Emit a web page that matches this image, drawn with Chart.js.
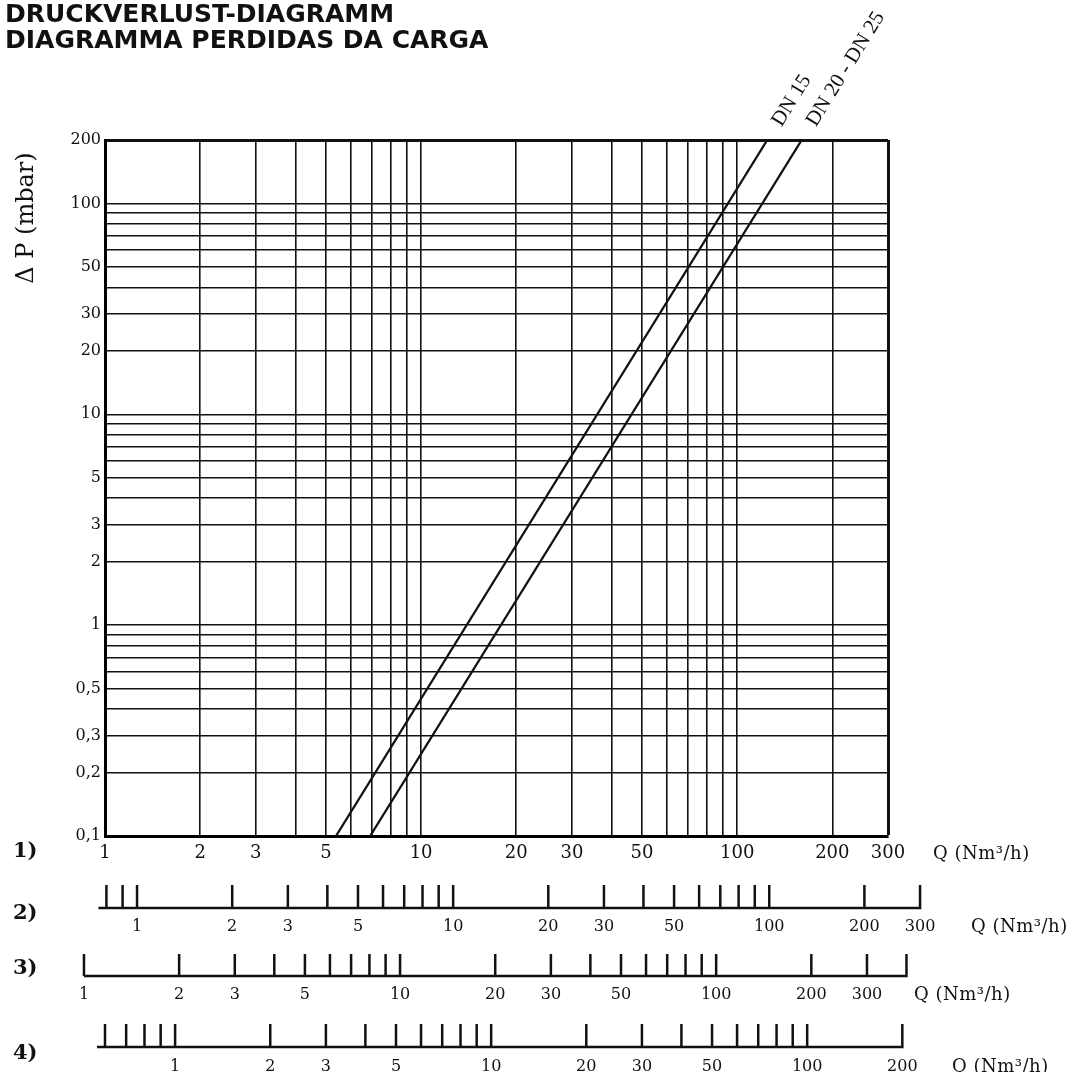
<!DOCTYPE html>
<html>
<head>
<meta charset="utf-8">
<title>Druckverlust-Diagramm</title>
<script src="https://cdn.jsdelivr.net/npm/chart.js@4.4.1/dist/chart.umd.min.js"></script>
<style>
  html, body { margin: 0; padding: 0; background: #fff; }
  #wrap { position: relative; width: 1069px; height: 1072px; }
</style>
</head>
<body>
<div id="wrap"><canvas id="chart"></canvas></div>
<script>
(function () {
  'use strict';

  // flow scale 1) (x) and pressure drop (y)
  const Q_MIN = 1;
  const Q_MAX = 300;
  const Q_GRID = [1, 2, 3, 4, 5, 6, 7, 8, 9, 10, 20, 30, 40, 50, 60, 70, 80, 90, 100, 200, 300];
  const Q_LABELS = [1, 2, 3, 5, 10, 20, 30, 50, 100, 200, 300];
  const P_MIN = 0.1;
  const P_MAX = 200;
  const P_GRID = [0.1, 0.2, 0.3, 0.4, 0.5, 0.6, 0.7, 0.8, 0.9, 1, 2, 3, 4, 5, 6, 7, 8, 9,
    10, 20, 30, 40, 50, 60, 70, 80, 90, 100, 200];
  const P_LABELS = [0.1, 0.2, 0.3, 0.5, 1, 2, 3, 5, 10, 20, 30, 50, 100, 200];

  // curves
  const DN15_Q = [5.38, 124.5];
  const DN15_P = [0.1, 200];
  const DN20_Q = [6.9, 160];
  const DN20_P = [0.1, 200];

  // secondary flow scales 2) 3) 4): where "1" of each one sits on scale 1)
  const SCALE_SHIFT = [1.263, 0.858, 1.665];
  const SCALE2_TICKS = [0.8, 0.9, 1, 2, 3, 4, 5, 6, 7, 8, 9, 10, 20, 30, 40, 50, 60, 70, 80, 90, 100, 200, 300];
  const SCALE2_LABELS = [1, 2, 3, 5, 10, 20, 30, 50, 100, 200, 300];
  const SCALE3_TICKS = [1, 2, 3, 4, 5, 6, 7, 8, 9, 10, 20, 30, 40, 50, 60, 70, 80, 90, 100, 200, 300, 400];
  const SCALE3_LABELS = [1, 2, 3, 5, 10, 20, 30, 50, 100, 200, 300];
  const SCALE4_TICKS = [0.6, 0.7, 0.8, 0.9, 1, 2, 3, 4, 5, 6, 7, 8, 9, 10, 20, 30, 40, 50, 60, 70, 80, 90, 100, 200];
  const SCALE4_LABELS = [1, 2, 3, 5, 10, 20, 30, 50, 100, 200];

  const INK = '#111';
  const SERIF = '"DejaVu Serif", "Liberation Serif", serif';

  // layout of the extra scale rows under the chart
  const ROWS = [
    { id: 'x2', ticks: SCALE2_TICKS, labels: SCALE2_LABELS, name: '2)', lineY: 908, tickTop: 885, labelY: 927, nameY: 914, lead: 8, qX: 971 },
    { id: 'x3', ticks: SCALE3_TICKS, labels: SCALE3_LABELS, name: '3)', lineY: 976, tickTop: 954, labelY: 995, nameY: 969, lead: 0, qX: 914 },
    { id: 'x4', ticks: SCALE4_TICKS, labels: SCALE4_LABELS, name: '4)', lineY: 1047, tickTop: 1024, labelY: 1067, nameY: 1054, lead: 8, qX: 952 },
  ];

  function fmt(v) {
    return String(v).replace('.', ',');
  }

  function toPoints(xs, ys) {
    return xs.map((x, i) => ({ x, y: ys[i] }));
  }

  function curveLabel(ctx, xs, ys, qArr, pArr, text) {
    const n = qArr.length;
    const x0 = xs.getPixelForValue(qArr[n - 2]);
    const y0 = ys.getPixelForValue(pArr[n - 2]);
    const x1 = xs.getPixelForValue(qArr[n - 1]);
    const y1 = ys.getPixelForValue(pArr[n - 1]);
    const a = Math.atan2(y1 - y0, x1 - x0);
    ctx.save();
    ctx.translate(x1 + Math.cos(a) * 18, y1 + Math.sin(a) * 18);
    ctx.rotate(a);
    ctx.textAlign = 'left';
    ctx.textBaseline = 'middle';
    ctx.fillText(text, 0, 0);
    ctx.restore();
  }

  const sheetText = {
    id: 'sheetText',
    afterDraw(chart) {
      const { ctx, scales } = chart;
      const xs = scales.x;
      const ys = scales.y;
      ctx.save();
      ctx.fillStyle = INK;
      ctx.strokeStyle = INK;

      // heading
      ctx.font = 'bold 25px "DejaVu Sans", Verdana, sans-serif';
      ctx.textAlign = 'left';
      ctx.textBaseline = 'alphabetic';
      ctx.fillText('DRUCKVERLUST-DIAGRAMM', 5, 22);
      ctx.fillText('DIAGRAMMA PERDIDAS DA CARGA', 5, 48);

      // y title
      ctx.save();
      ctx.translate(27, 218);
      ctx.rotate(-Math.PI / 2);
      ctx.font = '24px ' + SERIF;
      ctx.textAlign = 'center';
      ctx.textBaseline = 'middle';
      ctx.fillText('\u0394 P (mbar)', 0, 0);
      ctx.restore();

      // curve names
      ctx.font = '21px "Liberation Serif", serif';
      curveLabel(ctx, xs, ys, DN15_Q, DN15_P, 'DN 15');
      curveLabel(ctx, xs, ys, DN20_Q, DN20_P, 'DN 20 - DN 25');

      // row names and unit labels
      ctx.textBaseline = 'middle';
      ctx.textAlign = 'left';
      ctx.font = 'bold 21px ' + SERIF;
      ctx.fillText('1)', 13, 852);
      ROWS.forEach((r) => ctx.fillText(r.name, 13, r.nameY));

      ctx.font = '18px ' + SERIF;
      if ('letterSpacing' in ctx) ctx.letterSpacing = '0.5px';
      ctx.fillText('Q (Nm\u00b3/h)', 933, 854);
      ROWS.forEach((r) => ctx.fillText('Q (Nm\u00b3/h)', r.qX, r.labelY));
      if ('letterSpacing' in ctx) ctx.letterSpacing = '0px';

      // extra flow scales
      ctx.lineWidth = 2.5;
      ctx.lineCap = 'butt';
      ctx.font = '16px ' + SERIF;
      ctx.textAlign = 'center';
      ROWS.forEach((r) => {
        const s = scales[r.id];
        const px = r.ticks.map((v) => s.getPixelForValue(v));
        ctx.beginPath();
        ctx.moveTo(px[0] - r.lead, r.lineY);
        ctx.lineTo(px[px.length - 1] + 1.25, r.lineY);
        px.forEach((p) => {
          ctx.moveTo(p, r.lineY);
          ctx.lineTo(p, r.tickTop);
        });
        ctx.stroke();
        r.labels.forEach((v) => ctx.fillText(String(v), s.getPixelForValue(v), r.labelY));
      });

      ctx.restore();
    },
  };

  function hiddenScale(shift) {
    return { type: 'logarithmic', display: false, min: Q_MIN / shift, max: Q_MAX / shift };
  }

  const lineStyle = {
    showLine: true,
    borderColor: INK,
    borderWidth: 2.3,
    pointRadius: 0,
    fill: false,
    tension: 0,
  };

  new Chart(document.getElementById('chart'), {
    type: 'scatter',
    data: {
      datasets: [
        Object.assign({ label: 'DN 15', data: toPoints(DN15_Q, DN15_P) }, lineStyle),
        Object.assign({ label: 'DN 20 - DN 25', data: toPoints(DN20_Q, DN20_P) }, lineStyle),
      ],
    },
    options: {
      responsive: true,
      maintainAspectRatio: false,
      animation: false,
      layout: { padding: { left: 0, top: 140, right: 181, bottom: 0 } },
      plugins: {
        legend: { display: false },
        tooltip: { enabled: false },
      },
      scales: {
        x: {
          type: 'logarithmic',
          min: Q_MIN,
          max: Q_MAX,
          afterBuildTicks: (s) => { s.ticks = Q_GRID.map((v) => ({ value: v })); },
          afterFit: (s) => { s.height = 236; },
          grid: {
            color: INK,
            lineWidth: (c) => (c.tick && c.tick.value === Q_MAX ? 3 : 1.6),
            drawTicks: false,
          },
          border: { display: true, color: '#000', width: 3 },
          ticks: {
            autoSkip: false,
            maxRotation: 0,
            minRotation: 0,
            padding: 7,
            color: INK,
            font: { family: SERIF, size: 18 },
            callback: (v) => (Q_LABELS.includes(v) ? String(v) : ''),
          },
        },
        y: {
          type: 'logarithmic',
          min: P_MIN,
          max: P_MAX,
          afterBuildTicks: (s) => { s.ticks = P_GRID.map((v) => ({ value: v })); },
          afterFit: (s) => { s.width = 105; },
          grid: {
            color: INK,
            lineWidth: (c) => (c.tick && c.tick.value === P_MAX ? 3 : 1.6),
            drawTicks: false,
          },
          border: { display: true, color: '#000', width: 3 },
          ticks: {
            autoSkip: false,
            padding: 4,
            color: INK,
            font: { family: SERIF, size: 16 },
            callback: (v) => (P_LABELS.includes(v) ? fmt(v) : ''),
          },
        },
        x2: hiddenScale(SCALE_SHIFT[0]),
        x3: hiddenScale(SCALE_SHIFT[1]),
        x4: hiddenScale(SCALE_SHIFT[2]),
      },
    },
    plugins: [sheetText],
  });
})();
</script>
</body>
</html>
